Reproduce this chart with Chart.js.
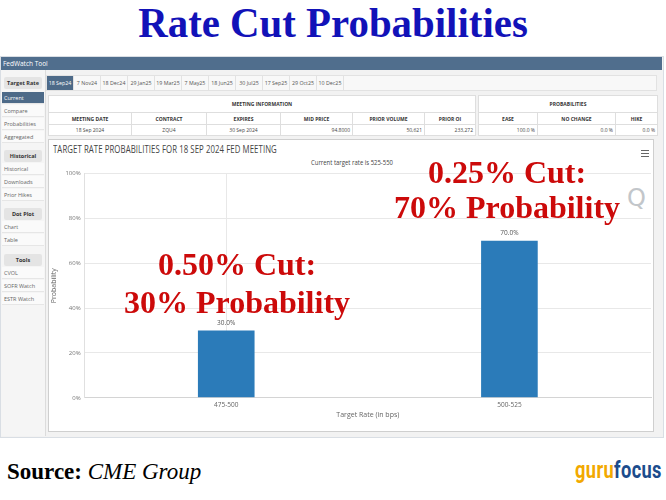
<!DOCTYPE html>
<html>
<head>
<meta charset="utf-8">
<script src="https://cdn.jsdelivr.net/npm/chart.js@4.4.0/dist/chart.umd.min.js"></script>
<style>
  body { margin: 0; width: 666px; height: 500px; position: relative; overflow: hidden; background: #fff; font-family: "Open Sans", Arial, sans-serif; }
  .a { position: absolute; white-space: nowrap; }
  #mainTitle { left: 0; top: 1px; width: 666px; text-align: center; font: bold 43px/43px "Liberation Serif", "Times New Roman", serif; color: #1212b8; transform: scaleX(0.95); }
  #shot { left: 0; top: 56px; width: 662px; height: 380px; border: 1px solid #d9dee4; background: #f2f2f2; }
  #bar { left: 1px; top: 57px; width: 661px; height: 13px; background: #506e8d; color: #fff; font-size: 6.5px; line-height: 13px; padding-left: 2px; box-sizing: border-box; }
  #side { left: 1px; top: 70px; width: 44px; height: 366px; background: #f5f5f5; border-right: 1px solid #dcdcdc; }
  .hd { left: 4px; width: 38px; height: 12px; background: #e4e4e4; border-radius: 2px; font-size: 5.5px; font-weight: bold; color: #333; text-align: center; line-height: 12px; }
  .it { left: 2px; width: 42px; height: 12px; background: #fafafa; border-bottom: 1px solid #e6e6e6; box-sizing: border-box; font-size: 5.5px; color: #666; line-height: 12px; padding-left: 2px; }
  .it.on { background: #4d6a88; color: #fff; }
  #tabs { left: 46px; top: 75px; width: 611px; height: 16px; background: #f8f8f8; border: 1px solid #e2e2e2; box-sizing: border-box; display: flex; }
  .tab { width: 26px; height: 14px; border-right: 1px solid #e2e2e2; font-size: 5.3px; color: #555; text-align: center; line-height: 14px; }
  .tab.on { background: #4d6a88; color: #fff; }
  table { position: absolute; border-collapse: collapse; background: #fff; font-size: 5px; color: #444; table-layout: fixed; }
  td { border: 1px solid #dedede; padding: 0 2px; overflow: hidden; white-space: nowrap; }
  td.h { font-weight: bold; text-align: center; color: #333; }
  td.c { text-align: center; }
  td.r { text-align: right; }
  #panel { left: 48px; top: 139px; width: 606px; height: 293px; background: #fff; border: 1px solid #cfcfcf; box-sizing: border-box; }
  #ctitle { left: 53px; top: 142px; font-size: 10px; color: #444; transform: scaleX(0.78); transform-origin: left; letter-spacing: 0.1px; }
  #csub { left: 0; width: 704px; top: 158px; text-align: center; font-size: 7px; color: #444; transform: scaleX(0.85); }
  #menu { left: 641px; top: 150px; width: 8px; }
  #menu div { height: 1.4px; background: #666; margin-bottom: 1.4px; }
  #wm { left: 627px; top: 184px; font: 24px "DejaVu Sans", sans-serif; color: #c2c6ca; }
  #chartBox { left: 49px; top: 166px; width: 604px; height: 265px; }
  .red { font: bold 32px/38px "Liberation Serif", "Times New Roman", serif; color: #cc0a0a; text-align: center; width: 300px; }
  #src { left: 7px; top: 460px; font: 23px/23px "Liberation Serif", "Times New Roman", serif; color: #000; }
  #guru { left: 575px; top: 458px; font: bold 24px/24px Roboto, sans-serif; transform: scaleX(0.76); transform-origin: left; letter-spacing: 0.5px; }
</style>
</head>
<body>
<div class="a" id="mainTitle">Rate Cut Probabilities</div>

<div class="a" id="shot"></div>
<div class="a" id="bar">FedWatch Tool</div>
<div class="a" id="side"></div>

<div class="a hd" style="top:77px">Target Rate</div>
<div class="a it on" style="top:92px">Current</div>
<div class="a it" style="top:105px">Compare</div>
<div class="a it" style="top:118px">Probabilities</div>
<div class="a it" style="top:131px">Aggregated</div>
<div class="a hd" style="top:150px">Historical</div>
<div class="a it" style="top:163px">Historical</div>
<div class="a it" style="top:176px">Downloads</div>
<div class="a it" style="top:189px">Prior Hikes</div>
<div class="a hd" style="top:208px">Dot Plot</div>
<div class="a it" style="top:221px">Chart</div>
<div class="a it" style="top:234px">Table</div>
<div class="a hd" style="top:254px">Tools</div>
<div class="a it" style="top:267px">CVOL</div>
<div class="a it" style="top:280px">SOFR Watch</div>
<div class="a it" style="top:293px">ESTR Watch</div>

<div class="a" id="tabs"></div>

<table style="left:48px; top:95px; width:427px;">
  <colgroup><col style="width:83px"><col style="width:75px"><col style="width:74px"><col style="width:72px"><col style="width:72px"><col style="width:51px"></colgroup>
  <tr style="height:17px"><td class="h" colspan="6">MEETING INFORMATION</td></tr>
  <tr style="height:12px"><td class="h">MEETING DATE</td><td class="h">CONTRACT</td><td class="h">EXPIRES</td><td class="h">MID PRICE</td><td class="h">PRIOR VOLUME</td><td class="h">PRIOR OI</td></tr>
  <tr style="height:11px"><td class="c">18 Sep 2024</td><td class="c">ZQU4</td><td class="c">30 Sep 2024</td><td class="r">94.8000</td><td class="r">50,621</td><td class="r">233,272</td></tr>
</table>
<table style="left:478px; top:95px; width:179px;">
  <colgroup><col style="width:59px"><col style="width:78px"><col style="width:42px"></colgroup>
  <tr style="height:17px"><td class="h" colspan="3">PROBABILITIES</td></tr>
  <tr style="height:12px"><td class="h">EASE</td><td class="h">NO CHANGE</td><td class="h">HIKE</td></tr>
  <tr style="height:11px"><td class="r">100.0 %</td><td class="r">0.0 %</td><td class="r">0.0 %</td></tr>
</table>

<div class="a" id="panel"></div>
<div class="a" id="ctitle">TARGET RATE PROBABILITIES FOR 18 SEP 2024 FED MEETING</div>
<div class="a" id="csub">Current target rate is 525-550</div>
<div class="a" id="menu"><div></div><div></div><div></div></div>
<div class="a" id="wm">Q</div>

<div class="a" id="chartBox"><canvas id="chart"></canvas></div>

<div class="a red" style="left:87px; top:245px;">0.50% Cut:</div>
<div class="a red" style="left:87px; top:283px;">30% Probability</div>
<div class="a red" style="left:357px; top:153px;">0.25% Cut:</div>
<div class="a red" style="left:357px; top:188px;">70% Probability</div>

<div class="a" id="src"><b>Source:</b> <i>CME Group</i></div>
<div class="a" id="guru"><span style="color:#f2a900">guru</span><span style="color:#1c4c8c">focus</span></div>

<script>
// meeting tabs
var meetings = ['18 Sep24', '7 Nov24', '18 Dec24', '29 Jan25', '19 Mar25', '7 May25', '18 Jun25', '30 Jul25', '17 Sep25', '29 Oct25', '10 Dec25'];

// chart data
var categories = ['475-500', '500-525'];
var probabilities = [30.0, 70.0];
var yTicks = [0, 20, 40, 60, 80, 100];

var tabs = document.getElementById('tabs');
meetings.forEach(function (m, i) {
    var d = document.createElement('div');
    d.className = 'tab' + (i === 0 ? ' on' : '');
    d.textContent = m;
    tabs.appendChild(d);
});

/**** labels above the columns ****/
var barLabels = {
    id: 'barLabels',
    afterDatasetsDraw: function (chart) {
        var ctx = chart.ctx;
        var meta = chart.getDatasetMeta(0);
        ctx.save();
        ctx.font = '6.5px "Open Sans", sans-serif';
        ctx.fillStyle = '#555';
        ctx.textAlign = 'center';
        ctx.textBaseline = 'bottom';
        meta.data.forEach(function (bar, i) {
            ctx.fillText(probabilities[i].toFixed(1) + '%', bar.x, bar.y - 4);
        });
        ctx.restore();
    }
};

var ctx = document.getElementById('chart');
new Chart(ctx, {
    type: 'bar',
    data: {
        labels: categories,
        datasets: [{
            data: probabilities,
            backgroundColor: '#2b7bb9',
            borderWidth: 0,
            categoryPercentage: 1,
            barPercentage: 0.2
        }]
    },
    plugins: [barLabels],
    options: {
        responsive: true,
        maintainAspectRatio: false,
        animation: false,
        layout: { padding: { top: 4, left: 1, right: 2, bottom: 12 } },
        plugins: { legend: { display: false }, tooltip: { enabled: false } },
        scales: {
            x: {
                grid: {
                    offset: false,
                    drawTicks: false,
                    color: function (c) { return c.index === 0 ? '#e8e8e8' : 'rgba(0,0,0,0)'; }
                },
                border: { color: '#d4d4d4' },
                ticks: { color: '#666', font: { size: 6.5, family: 'Open Sans' }, padding: 3 },
                title: { display: true, text: 'Target Rate (in bps)', color: '#666', font: { size: 7, family: 'Open Sans' }, padding: { top: -1, bottom: 0 } }
            },
            y: {
                min: 0,
                max: 100,
                afterBuildTicks: function (axis) { axis.ticks = yTicks.map(function (v) { return { value: v }; }); },
                grid: { color: '#e8e8e8', drawTicks: false },
                border: { color: '#e0e0e0' },
                ticks: { color: '#777', font: { size: 6, family: 'Open Sans' }, padding: 4, callback: function (v) { return v + '%'; } },
                title: { display: true, text: 'Probability', color: '#666', font: { size: 7, family: 'Open Sans' }, padding: { top: 0, bottom: 3 } }
            }
        }
    }
});
</script>
</body>
</html>
